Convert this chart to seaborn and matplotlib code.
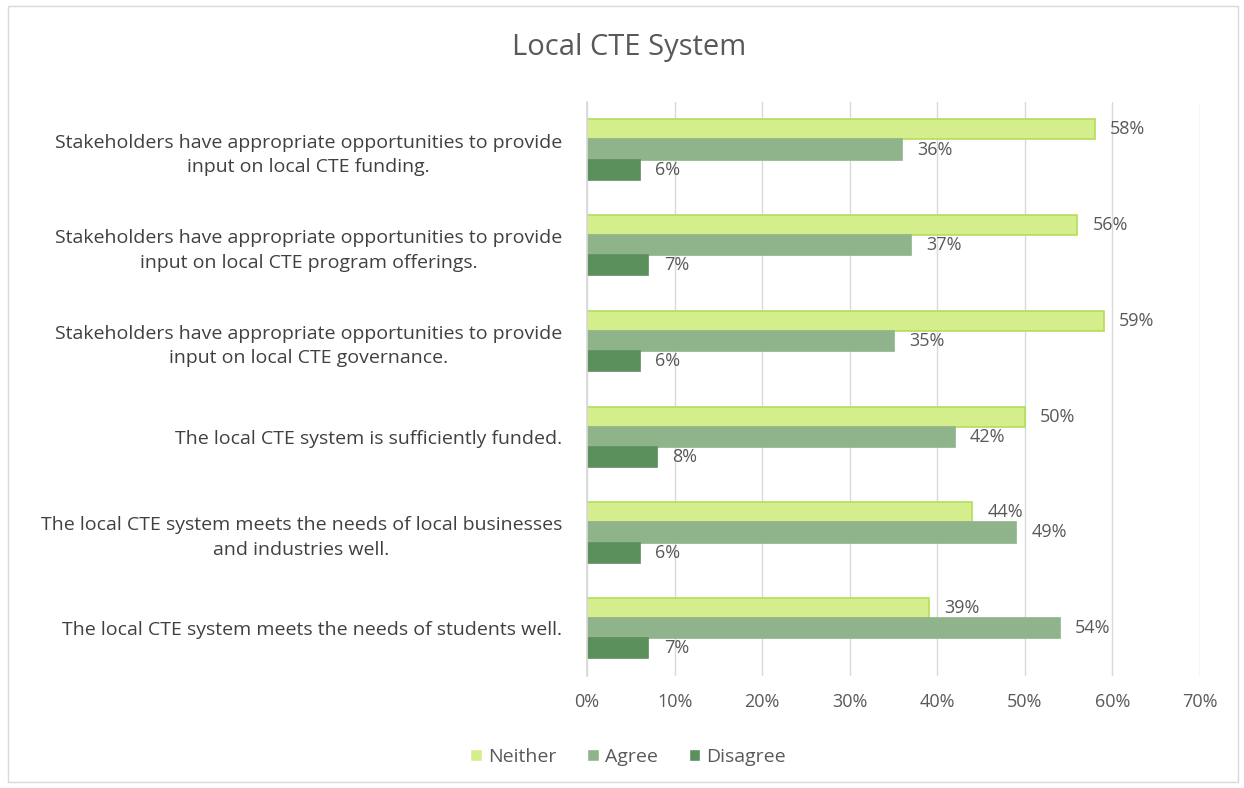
import matplotlib
matplotlib.use("Agg")
import matplotlib.pyplot as plt
import seaborn as sns
import pandas as pd
from matplotlib.patches import Rectangle

categories = [
    "Stakeholders have appropriate opportunities to provide\ninput on local CTE funding.",
    "Stakeholders have appropriate opportunities to provide\ninput on local CTE program offerings.",
    "Stakeholders have appropriate opportunities to provide\ninput on local CTE governance.",
    "The local CTE system is sufficiently funded.",
    "The local CTE system meets the needs of local businesses\nand industries well.",
    "The local CTE system meets the needs of students well.",
]
neither = [58, 56, 59, 50, 44, 39]
agree = [36, 37, 35, 42, 49, 54]
disagree = [6, 7, 6, 8, 6, 7]
series = ["Neither", "Agree", "Disagree"]
xticks = [0, 10, 20, 30, 40, 50, 60, 70]

rows = []
for s, vals in zip(series, [neither, agree, disagree]):
    for c, v in zip(categories, vals):
        rows.append({"Statement": c, "Response": s, "Value": v})
df = pd.DataFrame(rows)

sns.set_theme(style="white")
plt.rcParams["font.family"] = ["Open Sans", "DejaVu Sans"]

colors = {"Neither": "#d4ee8e", "Agree": "#8fb38a", "Disagree": "#5b8f5b"}
edges = {"Neither": "#b5dd5a", "Agree": "#8fb38a", "Disagree": "#5b8f5b"}

fig = plt.figure(figsize=(12.44, 7.88), dpi=100)
ax = fig.add_axes([0.472, 0.142, 0.4925, 0.729])

sns.barplot(data=df, y="Statement", x="Value", hue="Response", order=categories,
            hue_order=series, palette=colors, orient="h", width=0.63, ax=ax,
            saturation=1, legend=True)

for cont, s in zip(ax.containers, series):
    for p in cont.patches:
        p.set_edgecolor(edges[s])
        p.set_linewidth(1.2)
    ax.bar_label(cont, labels=[f"{int(round(v))}%" for v in cont.datavalues],
                 padding=11, fontsize=13, color="#595959")

ax.set_xlim(0, 70)
ax.set_xticks(xticks)
ax.set_xticklabels([f"{t}%" for t in xticks], fontsize=13, color="#595959")
ax.tick_params(axis="x", length=0, pad=12)
ax.tick_params(axis="y", length=0, pad=18)
for lbl in ax.get_yticklabels():
    lbl.set_fontsize(14)
    lbl.set_color("#404040")
    lbl.set_multialignment("center")
    lbl.set_linespacing(1.45)
ax.grid(axis="x", color="#d9d9d9", linewidth=1)
ax.set_axisbelow(True)
for sp in ["top", "right", "bottom"]:
    ax.spines[sp].set_visible(False)
ax.spines["left"].set_color("#d9d9d9")
ax.set_xlabel("")
ax.set_ylabel("")

handles, labels = ax.get_legend_handles_labels()
ax.legend_.remove()
fig.legend(handles, labels, loc="center", bbox_to_anchor=(628 / 1244, 1 - 757 / 788),
           ncol=3, frameon=False, fontsize=14, handlelength=0.6, handleheight=0.6,
           handletextpad=0.3, columnspacing=1.6, labelcolor="#595959")

fig.text(629 / 1244, 1 - 48 / 788, "Local CTE System", ha="center", va="center",
         fontsize=21, color="#595959")

fig.patches.append(Rectangle((8 / 1244, 6 / 788), 1230 / 1244, 776 / 788,
                             transform=fig.transFigure, fill=False,
                             edgecolor="#d9d9d9", linewidth=1))

fig.savefig("out.png", dpi=100)
